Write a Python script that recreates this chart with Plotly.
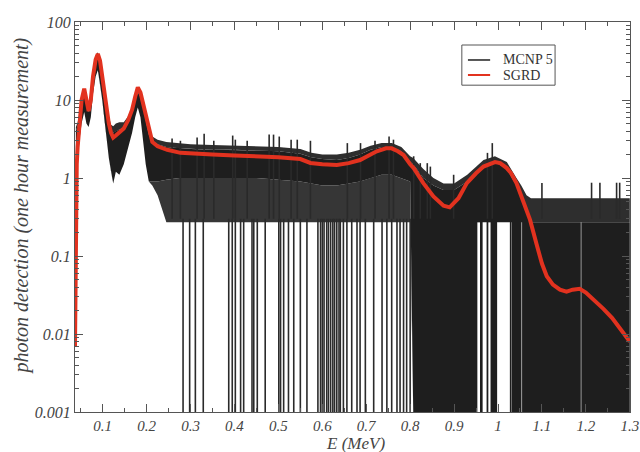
import plotly.graph_objects as go

# ---------------- data ----------------
# SGRD (smooth red curve)
E_sgrd = [0.037, 0.039, 0.041, 0.043, 0.047, 0.052, 0.058, 0.063, 0.068, 0.073, 0.078,
          0.084, 0.089, 0.094, 0.099, 0.104, 0.109, 0.114, 0.119, 0.124, 0.130, 0.138,
          0.148, 0.158, 0.167, 0.174, 0.180, 0.186, 0.192, 0.198, 0.205, 0.213, 0.225,
          0.247, 0.277, 0.30, 0.35, 0.40, 0.45, 0.50, 0.55, 0.573, 0.60, 0.633, 0.66,
          0.686, 0.71, 0.724, 0.745, 0.758, 0.772, 0.785, 0.80, 0.808, 0.83, 0.853,
          0.876, 0.89, 0.91, 0.929, 0.95, 0.967, 0.993, 1.005, 1.02, 1.03, 1.042,
          1.053, 1.065, 1.073, 1.088, 1.10, 1.111, 1.125, 1.141, 1.156, 1.17, 1.186,
          1.20, 1.22, 1.24, 1.26, 1.277, 1.296, 1.30]
sgrd = [0.007, 0.3, 1.5, 2.5, 5.5, 10, 14, 10, 7.2, 10, 20,
        33, 39, 32, 20, 13, 7.5, 5.0, 3.8, 3.3, 3.5, 3.9,
        4.3, 5.5, 7.5, 11, 14.5, 12.5, 9, 6, 4, 2.9, 2.55,
        2.3, 2.1, 2.05, 2.0, 1.95, 1.9, 1.85, 1.75, 1.56, 1.5, 1.47, 1.55,
        1.7, 2.0, 2.2, 2.4, 2.4, 2.2, 1.97, 1.5, 1.34, 0.86, 0.58,
        0.44, 0.42, 0.55, 0.86, 1.15, 1.40, 1.6, 1.55, 1.34, 1.15, 0.86,
        0.6, 0.38, 0.29, 0.14, 0.08, 0.055, 0.043, 0.037, 0.035, 0.037, 0.038,
        0.034, 0.027, 0.021, 0.016, 0.012, 0.0085, 0.008]

# MCNP 5 (noisy black histogram) described by its envelopes
E_mcnp = [0.039, 0.043, 0.047, 0.052, 0.058, 0.063, 0.068, 0.073, 0.078, 0.084, 0.089,
          0.094, 0.099, 0.104, 0.109, 0.114, 0.119, 0.124, 0.130, 0.138, 0.148, 0.158,
          0.167, 0.174, 0.180, 0.186, 0.192, 0.198, 0.205, 0.213, 0.225, 0.245, 0.275,
          0.30, 0.35, 0.40, 0.45, 0.50, 0.55, 0.575, 0.60, 0.633, 0.66, 0.686, 0.71,
          0.735, 0.758, 0.78, 0.80, 0.807, 0.83, 0.853, 0.876, 0.90, 0.93, 0.95, 0.967,
          0.993, 1.02, 1.042, 1.053, 1.065, 1.075, 1.15, 1.22, 1.30]
mcnp_top = [4.5, 5.2, 6.8, 10.5, 13.5, 9.5, 7.8, 10.5, 21, 37, 41,
            31, 21, 14, 8.5, 6.2, 4.8, 4.6, 5.0, 5.2, 5.2, 6.2,
            8.2, 11.5, 13.5, 12.5, 9.5, 6.5, 4.2, 3.4, 3.1, 2.9, 2.8,
            2.7, 2.65, 2.6, 2.6, 2.5, 2.35, 2.1, 2.0, 2.0, 2.1, 2.3, 2.6,
            2.8, 2.8, 2.5, 1.9, 1.8, 1.3, 1.0, 0.85, 0.85, 1.1, 1.4, 1.7,
            1.9, 1.6, 1.0, 0.8, 0.6, 0.55, 0.55, 0.55, 0.55]
mcnp_solid_top = [4.0, 4.6, 6.0, 9.5, 12.5, 8.5, 7.0, 9.5, 19, 33, 37,
                  28, 19, 12, 7.5, 5.2, 4.0, 3.8, 4.0, 4.2, 4.4, 5.4,
                  7.2, 10, 12.5, 11, 8.5, 5.5, 3.6, 2.9, 2.7, 2.5, 2.4,
                  2.35, 2.3, 2.3, 2.25, 2.2, 2.05, 1.85, 1.75, 1.7, 1.8, 2.0, 2.3,
                  2.5, 2.5, 2.2, 1.6, 1.5, 1.0, 0.8, 0.7, 0.7, 0.9, 1.15, 1.4,
                  1.6, 1.3, 0.8, 0.6, 0.4, 0.27, 0.27, 0.27, 0.27]
mcnp_solid_bot = [1.3, 1.6, 3.0, 5.0, 7.0, 5.0, 4.5, 6.0, 12, 20, 24,
                  16, 10, 6, 3.2, 1.8, 1.2, 0.85, 1.2, 1.1, 1.5, 2.4,
                  3.8, 6, 8, 6, 3, 1.5, 0.9, 0.9, 0.9, 0.95, 1.0,
                  1.0, 1.0, 1.0, 1.0, 0.95, 0.9, 0.85, 0.8, 0.8, 0.85, 0.9, 1.0,
                  1.1, 1.1, 1.0, 0.9, 0.001, 0.001, 0.001, 0.001, 0.001, 0.001, 0.001, 0.001,
                  0.001, 0.001, 0.001, 0.001, 0.001, 0.001, 0.001, 0.001, 0.001]
mcnp_floor = [1.3, 1.6, 3.0, 5.0, 7.0, 5.0, 4.5, 6.0, 12, 20, 24,
              16, 10, 6, 3.2, 1.8, 1.2, 0.85, 1.2, 1.1, 1.5, 2.4,
              3.8, 6, 8, 6, 3, 1.5, 0.9, 0.8, 0.6, 0.27, 0.27,
              0.27, 0.27, 0.27, 0.27, 0.27, 0.27, 0.27, 0.27, 0.27, 0.27, 0.27, 0.27,
              0.27, 0.27, 0.27, 0.27, 0.001, 0.001, 0.001, 0.001, 0.001, 0.001, 0.001, 0.001,
              0.001, 0.001, 0.001, 0.001, 0.001, 0.001, 0.001, 0.001, 0.001]

# MCNP bins with zero counts (drawn down to the axis)
zero_bins = [0.283, 0.298, 0.311, 0.329, 0.387, 0.395, 0.402, 0.414, 0.421, 0.440,
             0.444, 0.452, 0.470, 0.501, 0.505, 0.512, 0.523, 0.535, 0.550, 0.565,
             0.590, 0.596, 0.600, 0.604, 0.610, 0.614, 0.619, 0.624, 0.628, 0.633,
             0.638, 0.641, 0.648, 0.656, 0.667, 0.679, 0.686, 0.698, 0.717, 0.736,
             0.747, 0.758, 0.770, 0.777, 0.785, 0.792, 0.800]
# tall MCNP bins sticking out above the band
spike_E = [0.258, 0.277, 0.315, 0.331, 0.353, 0.396, 0.402, 0.429, 0.479, 0.489, 0.502,
           0.529, 0.543, 0.573, 0.657, 0.687, 0.720, 0.752, 0.762, 0.808, 0.823, 0.839,
           0.846, 0.899, 0.976, 0.987, 1.10, 1.213, 1.232, 1.27, 1.277]
spike_top = [3.2, 3.0, 3.3, 3.7, 3.0, 3.5, 3.1, 3.0, 3.6, 3.6, 3.4,
             3.1, 3.1, 3.0, 2.8, 2.8, 3.0, 3.4, 3.1, 1.9, 1.55, 1.55,
             1.4, 1.1, 2.1, 2.8, 0.86, 0.87, 0.87, 0.87, 0.87]
# white gaps in the solid black region (E from, E to)
gap_lo = [0.953, 0.965, 0.978, 0.998, 1.031, 1.0535, 1.1885]
gap_hi = [0.959, 0.974, 0.983, 1.027, 1.0318, 1.0548, 1.1897]

series_names = ["MCNP 5", "SGRD"]

BLACK = "#1e1e1e"
COMB_HI = "#2e2e2e"
COMB_LO = "#363636"
RED = "#e2321f"
SERIF = "Liberation Serif"

fig = go.Figure()


def band(x, hi, lo, color):
    fig.add_trace(go.Scatter(x=list(x) + list(x)[::-1], y=list(hi) + list(lo)[::-1],
                             fill="toself", fillcolor=color, mode="lines",
                             line=dict(width=0, color=color), hoverinfo="skip",
                             showlegend=False))


band(E_mcnp, mcnp_top, mcnp_solid_top, COMB_HI)
band(E_mcnp, mcnp_solid_bot, mcnp_floor, COMB_LO)
band(E_mcnp, mcnp_solid_top, mcnp_solid_bot, BLACK)

zx, zy = [], []
for e in zero_bins:
    zx += [e, e, None]
    zy += [0.001, 0.3, None]
fig.add_trace(go.Scatter(x=zx, y=zy, mode="lines", line=dict(color="#2a2a2a", width=1.6),
                         hoverinfo="skip", showlegend=False))

sx, sy = [], []
for e, t in zip(spike_E, spike_top):
    sx += [e, e, None]
    sy += [0.3, t, None]
fig.add_trace(go.Scatter(x=sx, y=sy, mode="lines", line=dict(color="#2a2a2a", width=1.6),
                         hoverinfo="skip", showlegend=False))

for a, b in zip(gap_lo, gap_hi):
    fig.add_trace(go.Scatter(x=[a, b, b, a, a], y=[0.001, 0.001, 0.27, 0.27, 0.001],
                             fill="toself", fillcolor="white", mode="lines",
                             line=dict(width=0, color="white"), hoverinfo="skip",
                             showlegend=False))

fig.add_trace(go.Scatter(x=E_sgrd, y=sgrd, mode="lines", line=dict(color=RED, width=4),
                         name=series_names[1], showlegend=False, hoverinfo="skip"))

xtickfont = dict(family=SERIF, size=15, color="#444", style="italic")
ytickfont = dict(family=SERIF, size=16, color="#444", style="italic")
titlefont = dict(family=SERIF, size=17, color="#444", style="italic")
x_ticks = [0.1, 0.2, 0.3, 0.4, 0.5, 0.6, 0.7, 0.8, 0.9, 1.0, 1.1, 1.2, 1.3]
x_labels = ["0.1", "0.2", "0.3", "0.4", "0.5", "0.6", "0.7", "0.8", "0.9", "1", "1.1", "1.2", "1.3"]
y_ticks = [0.001, 0.01, 0.1, 1, 10, 100]
y_labels = ["0.001", "0.01", "0.1", "1", "10", "100"]

# hand-made legend box (paper coordinates)
LX0, LX1, LY0, LY1 = 0.697, 0.865, 0.838, 0.941
legend_shapes = [
    dict(type="rect", xref="paper", yref="paper", x0=LX0, x1=LX1, y0=LY0, y1=LY1,
         line=dict(color="#555", width=1), fillcolor="white", layer="above"),
    dict(type="line", xref="paper", yref="paper", x0=0.708, x1=0.748, y0=0.9026, y1=0.9026,
         line=dict(color=BLACK, width=1.5), layer="above"),
    dict(type="line", xref="paper", yref="paper", x0=0.708, x1=0.748, y0=0.8641, y1=0.8641,
         line=dict(color=RED, width=2), layer="above"),
]
legfont = dict(family=SERIF, size=14, color="#333")
legend_ann = [
    dict(text=series_names[0], xref="paper", yref="paper", x=0.7676, y=0.9026,
         xanchor="left", yanchor="middle", showarrow=False, font=legfont),
    dict(text=series_names[1], xref="paper", yref="paper", x=0.7676, y=0.8641,
         xanchor="left", yanchor="middle", showarrow=False, font=legfont),
]

fig.update_layout(
    width=640, height=452,
    margin=dict(l=75, r=10, t=22, b=40, autoexpand=False),
    paper_bgcolor="white", plot_bgcolor="white",
    showlegend=False,
    xaxis=dict(range=[0.037, 1.3005], tickvals=x_ticks, ticktext=x_labels,
               ticks="inside", ticklen=8, tickcolor="#555", tickwidth=1,
               minor=dict(ticks="inside", ticklen=4, dtick=0.05, tick0=0, tickcolor="#555"),
               showline=True, linecolor="#555", linewidth=1, mirror="ticks",
               showgrid=False, zeroline=False, tickfont=xtickfont, automargin=False),
    yaxis=dict(type="log", range=[-3, 2], tickvals=y_ticks, ticktext=y_labels,
               ticks="inside", ticklen=8, tickcolor="#555", tickwidth=1,
               minor=dict(ticks="inside", ticklen=4, dtick="D1", tickcolor="#555"),
               showline=True, linecolor="#555", linewidth=1, mirror="ticks",
               showgrid=False, zeroline=False, tickfont=ytickfont, automargin=False),
    shapes=legend_shapes,
    annotations=legend_ann + [
        dict(text="E (MeV)", xref="paper", yref="paper", x=0.505, y=0,
             xanchor="center", yanchor="top", yshift=-20, showarrow=False, font=titlefont),
        dict(text="photon detection (one hour measurement)", xref="paper", yref="paper",
             x=0, y=0.527, xanchor="center", yanchor="middle", xshift=-54, textangle=-90,
             showarrow=False, font=dict(family=SERIF, size=20, color="#444", style="italic")),
    ],
)

fig.write_html("out.html", config={"displayModeBar": False},
               post_script="document.body.style.margin='0';document.body.style.overflow='hidden';")
